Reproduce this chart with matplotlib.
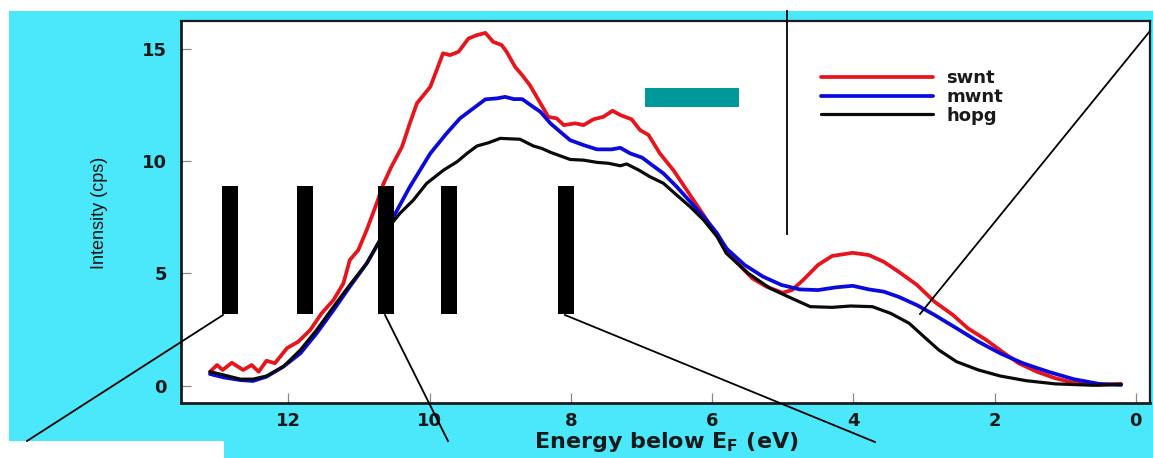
import matplotlib
matplotlib.use("Agg")
import matplotlib.pyplot as plt
from matplotlib.patches import Rectangle
from matplotlib.lines import Line2D
from matplotlib.font_manager import FontProperties

# --- photoemission spectra: energy below E_F (eV) vs intensity (cps) ---
swnt_e = [13.11, 13.01, 12.93, 12.80, 12.64, 12.52, 12.42, 12.31, 12.19, 12.02,
          11.86, 11.69, 11.53, 11.36, 11.22, 11.13, 11.01, 10.89, 10.75, 10.65,
          10.54, 10.39, 10.28, 10.18, 9.99, 9.90, 9.81, 9.71, 9.59, 9.45, 9.33, 9.21,
          9.10, 8.98, 8.91, 8.79, 8.69, 8.58, 8.43, 8.32, 8.20, 8.10, 7.94,
          7.82, 7.68, 7.54, 7.41, 7.30, 7.14, 7.02, 6.90, 6.74, 6.55, 6.36,
          6.17, 5.98, 5.80, 5.64, 5.43, 5.23, 5.00, 4.87, 4.71, 4.50, 4.30,
          4.01, 3.78, 3.57, 3.36, 3.10, 2.85, 2.59, 2.38, 2.12, 1.86, 1.66,
          1.40, 1.14, 0.88, 0.52, 0.21]
swnt_i = [0.62, 0.92, 0.70, 1.02, 0.70, 0.92, 0.62, 1.11, 1.00, 1.67,
          1.96, 2.48, 3.22, 3.82, 4.56, 5.60, 6.04, 6.94, 8.12, 9.02,
          9.76, 10.65, 11.69, 12.58, 13.32, 14.06, 14.81, 14.73, 14.88, 15.47, 15.62, 15.72,
          15.32, 15.18, 14.88, 14.21, 13.84, 13.39, 12.58, 11.98, 11.91, 11.61, 11.69,
          11.61, 11.87, 11.98, 12.25, 12.06, 11.87, 11.39, 11.17, 10.35, 9.61, 8.72,
          7.83, 6.94, 6.13, 5.45, 4.78, 4.41, 4.14, 4.26, 4.71, 5.38, 5.78,
          5.92, 5.82, 5.52, 5.08, 4.49, 3.74, 3.15, 2.56, 2.04, 1.44, 1.00,
          0.62, 0.33, 0.13, 0.03, 0.08]

mwnt_e = [13.11, 12.92, 12.68, 12.50, 12.31, 12.07, 11.83, 11.60, 11.36, 11.13,
          10.89, 10.70, 10.51, 10.28, 9.99, 9.76, 9.57, 9.38, 9.21, 9.05,
          8.93, 8.81, 8.69, 8.55, 8.43, 8.29, 8.15, 8.01, 7.82, 7.63, 7.42,
          7.30, 7.16, 6.99, 6.85, 6.69, 6.50, 6.31, 6.12, 5.93, 5.80, 5.54,
          5.28, 5.02, 4.76, 4.50, 4.25, 4.01, 3.78, 3.57, 3.36, 3.10, 2.85,
          2.54, 2.23, 1.92, 1.60, 1.24, 0.88, 0.52, 0.21]
mwnt_i = [0.52, 0.37, 0.25, 0.21, 0.40, 0.85, 1.44, 2.33, 3.37, 4.41,
          5.45, 6.49, 7.53, 8.86, 10.35, 11.24, 11.91, 12.36, 12.76, 12.80,
          12.87, 12.77, 12.77, 12.46, 12.20, 11.69, 11.31, 10.94, 10.72, 10.53, 10.53,
          10.60, 10.35, 10.16, 9.83, 9.46, 8.86, 8.20, 7.53, 6.79, 6.12, 5.38,
          4.86, 4.49, 4.29, 4.26, 4.38, 4.45, 4.29, 4.19, 3.96, 3.59, 3.15,
          2.56, 1.96, 1.44, 1.00, 0.62, 0.29, 0.08, 0.03]

hopg_e = [13.11, 12.92, 12.68, 12.50, 12.31, 12.07, 11.83, 11.60, 11.36, 11.13,
          10.89, 10.65, 10.42, 10.23, 10.04, 9.80, 9.61, 9.47, 9.33, 9.17,
          9.00, 8.86, 8.72, 8.53, 8.41, 8.29, 8.15, 8.01, 7.82, 7.63, 7.47,
          7.30, 7.21, 7.04, 6.88, 6.69, 6.50, 6.31, 6.12, 5.93, 5.80, 5.49,
          5.18, 4.92, 4.61, 4.30, 4.04, 3.73, 3.47, 3.21, 3.00, 2.79, 2.54,
          2.23, 1.92, 1.55, 1.14, 0.62, 0.21]
hopg_i = [0.62, 0.48, 0.29, 0.29, 0.43, 0.85, 1.59, 2.48, 3.52, 4.49,
          5.45, 6.79, 7.68, 8.27, 9.02, 9.61, 9.98, 10.35, 10.68, 10.82,
          11.02, 11.00, 10.98, 10.68, 10.57, 10.40, 10.24, 10.08, 10.05, 9.95, 9.91,
          9.80, 9.88, 9.61, 9.31, 9.02, 8.49, 7.97, 7.38, 6.64, 5.90, 5.01,
          4.34, 3.96, 3.52, 3.49, 3.55, 3.52, 3.22, 2.78, 2.18, 1.59, 1.07,
          0.70, 0.43, 0.22, 0.08, 0.02, 0.06]

series_names = ["swnt", "mwnt", "hopg"]
series_colors = ["#e8141c", "#0a0adc", "#0a0a0a"]
x_ticks = [12, 10, 8, 6, 4, 2, 0]
y_ticks = [0, 5, 10, 15]

# --- figure layout (pixel based) ---
W, H = 1153, 458
fig = plt.figure(figsize=(W / 100, H / 100), dpi=100)
fig.patch.set_facecolor("white")


def fx(px):
    return px / W


def fy(py):
    return 1 - py / H


CYAN = "#4ae8fa"
TEAL = "#009999"
INK = "#1a1a1a"

# backdrop panels
fig.add_artist(Rectangle((fx(9), fy(458)), fx(1153) - fx(9), fy(11) - fy(458),
                         transform=fig.transFigure, facecolor=CYAN,
                         edgecolor="none", zorder=-2))
fig.add_artist(Rectangle((0, 0), fx(224), fy(441),
                         transform=fig.transFigure, facecolor="white",
                         edgecolor="none", zorder=-1))

ax = fig.add_axes([fx(181), fy(402.5), fx(1150) - fx(181), fy(21) - fy(402.5)])
ax.set_facecolor("white")

lws = [2.7, 2.7, 2.3]
for e, i, name, c, lw in zip([swnt_e, mwnt_e, hopg_e], [swnt_i, mwnt_i, hopg_i],
                             series_names, series_colors, lws):
    ax.plot(e, i, color=c, lw=lw, label=name, solid_joinstyle="round",
            solid_capstyle="round")

ax.set_xlim(13.52, -0.2)
ax.set_ylim(-0.75, 16.25)
ax.set_xticks(x_ticks)
ax.set_yticks(y_ticks)
ax.set_xticklabels([str(t) for t in x_ticks])
ax.set_yticklabels([str(t) for t in y_ticks])

tick_font = FontProperties(family="DejaVu Sans", weight="bold", size=13)
for lab in ax.get_xticklabels() + ax.get_yticklabels():
    lab.set_fontproperties(tick_font)
    lab.set_color(INK)

ax.tick_params(axis="both", direction="in", length=7, width=0.9, color="#888888")
ax.tick_params(axis="x", pad=7)
ax.tick_params(axis="y", pad=10)

for side, sp in ax.spines.items():
    sp.set_color("#1c1c1c")
    sp.set_linewidth(2.0 if side in ("left", "bottom") else 1.6)

plt.rcParams["mathtext.fontset"] = "custom"
plt.rcParams["mathtext.rm"] = "DejaVu Sans:bold"
plt.rcParams["mathtext.it"] = "DejaVu Sans:bold"
plt.rcParams["mathtext.bf"] = "DejaVu Sans:bold"

fig.text(fx(666), fy(442), r"Energy below E$_{\rm F}$ (eV)", ha="center",
         va="center", family="DejaVu Sans", weight="bold", size=16,
         color=INK)
fig.text(fx(100), fy(213), "Intensity (cps)", rotation=90, ha="center",
         va="center", family="Liberation Sans", size=13, color="#111111")

leg = ax.legend(loc="upper left", bbox_to_anchor=(fx(821), fy(69)),
                bbox_transform=fig.transFigure, frameon=False, borderpad=0,
                borderaxespad=0, handlelength=6.2, handletextpad=0.75,
                labelspacing=0.05,
                prop=FontProperties(family="DejaVu Sans", weight="bold", size=13))
for t in leg.get_texts():
    t.set_color(INK)

# annotation overlays: markers, teal bar and guide lines
bar_lefts = [222, 297, 378, 441, 558]
for bl in bar_lefts:
    fig.add_artist(Rectangle((fx(bl), fy(314)), fx(bl + 15.5) - fx(bl),
                             fy(186) - fy(314), transform=fig.transFigure,
                             facecolor="black", edgecolor="none", zorder=5))

fig.add_artist(Rectangle((fx(645), fy(107)), fx(739) - fx(645), fy(88) - fy(107),
                         transform=fig.transFigure, facecolor=TEAL,
                         edgecolor="none", zorder=5))

guides = [
    ((223, 315), (27, 441)),
    ((385, 315), (448, 441)),
    ((565, 315), (875, 442)),
    ((787, 11), (787, 234)),
    ((1150, 31), (920, 314)),
]
for (x0, y0), (x1, y1) in guides:
    fig.add_artist(Line2D([fx(x0), fx(x1)], [fy(y0), fy(y1)],
                          transform=fig.transFigure, color="black", lw=1.3,
                          zorder=6))

fig.savefig("out.png", dpi=100)
